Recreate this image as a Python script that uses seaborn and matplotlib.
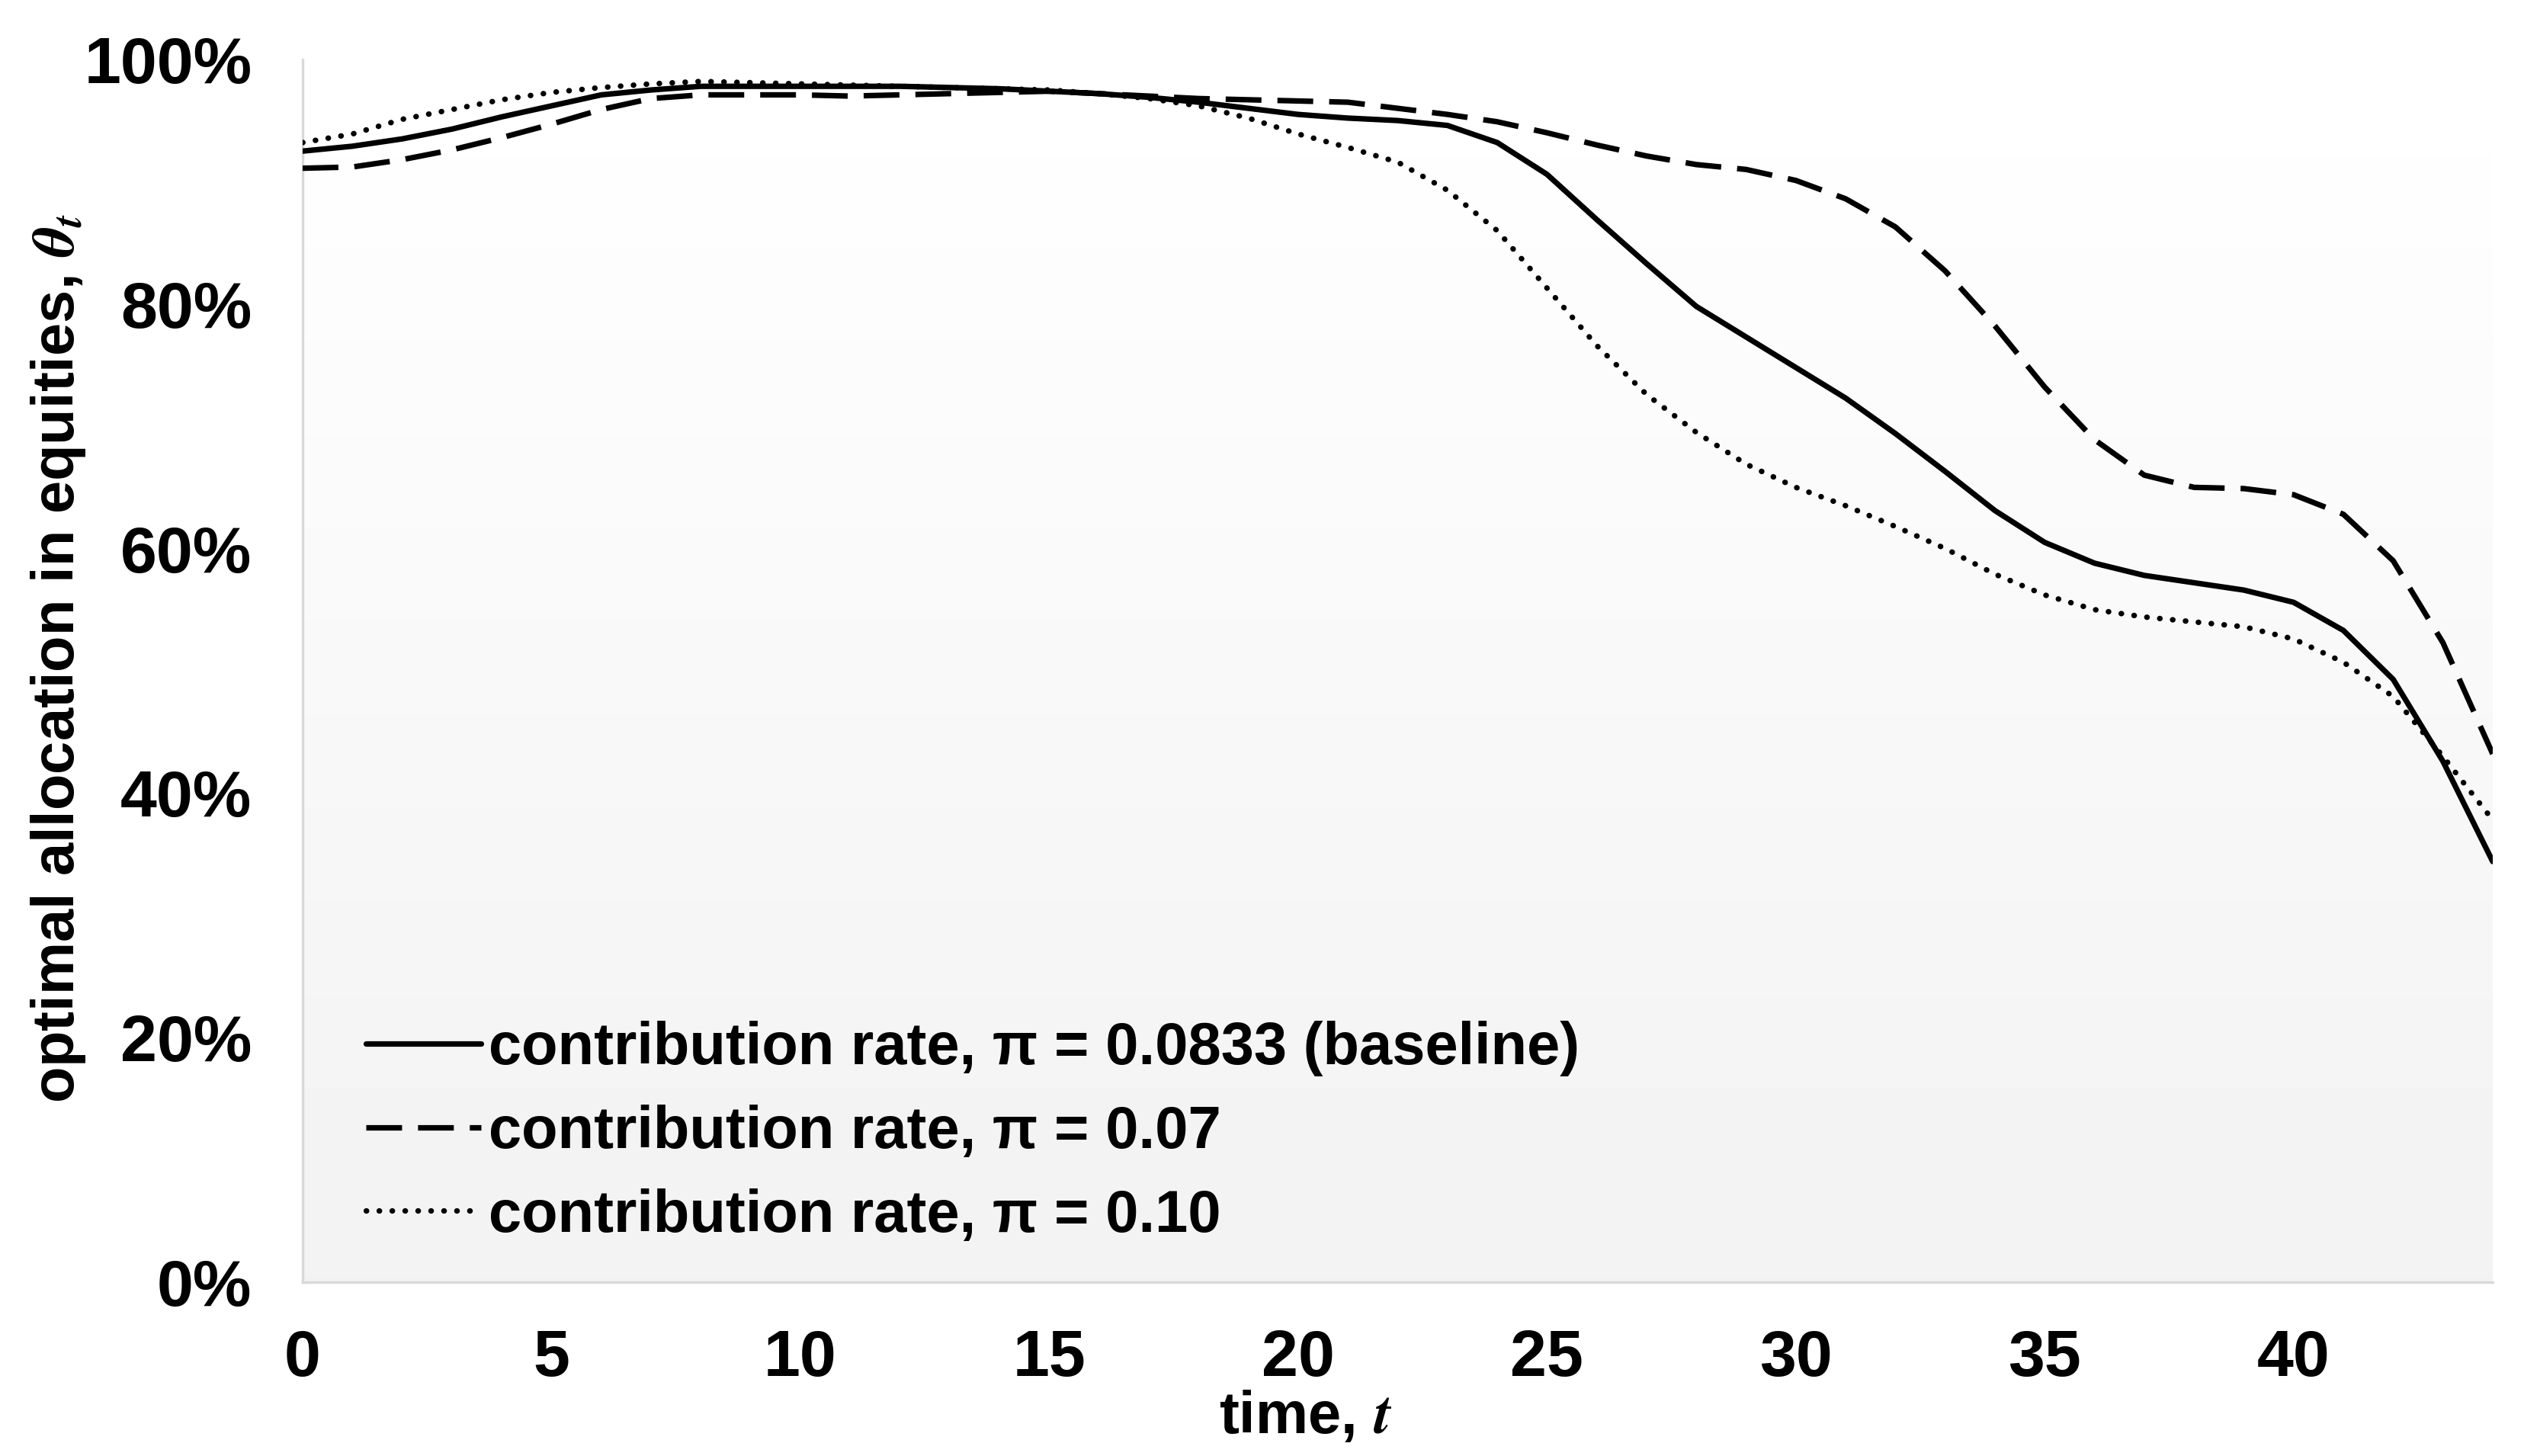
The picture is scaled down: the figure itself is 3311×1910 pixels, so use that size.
import numpy as np
import pandas as pd
import seaborn as sns
from matplotlib import pyplot as plt
from matplotlib.ticker import PercentFormatter

# time axis
t = list(range(0, 45))

# baseline, pi = 0.0833 (solid)
theta_base = [92.5, 92.9, 93.5, 94.3, 95.3, 96.2, 97.1, 97.5, 97.8, 97.8,
              97.8, 97.8, 97.8, 97.7, 97.6, 97.4, 97.2, 96.9, 96.5, 96.0,
              95.5, 95.2, 95.0, 94.6, 93.2, 90.6, 86.9, 83.3, 79.8, 77.3,
              74.8, 72.3, 69.4, 66.3, 63.1, 60.5, 58.8, 57.8, 57.2, 56.6,
              55.6, 53.3, 49.3, 42.6, 34.4]

# pi = 0.07 (dashed)
theta_low = [91.1, 91.2, 91.8, 92.6, 93.6, 94.7, 95.9, 96.8, 97.1, 97.1,
             97.1, 97.0, 97.1, 97.2, 97.3, 97.4, 97.2, 97.0, 96.8, 96.7,
             96.6, 96.5, 96.0, 95.5, 94.9, 94.0, 93.0, 92.1, 91.4, 91.0,
             90.1, 88.6, 86.3, 82.7, 78.2, 73.2, 68.9, 66.0, 65.0, 64.9,
             64.4, 62.8, 59.0, 52.3, 43.2]

# pi = 0.10 (dotted)
theta_high = [93.2, 93.9, 95.1, 95.9, 96.7, 97.3, 97.7, 98.0, 98.2, 98.1,
              98.0, 97.9, 97.8, 97.7, 97.6, 97.5, 97.2, 96.8, 96.2, 95.2,
              93.9, 92.8, 91.6, 89.3, 86.0, 81.3, 76.6, 72.6, 69.5, 66.9,
              65.0, 63.5, 61.8, 60.0, 57.9, 56.2, 55.0, 54.4, 54.0, 53.6,
              52.6, 50.7, 47.9, 43.0, 37.8]

labels = ['contribution rate, π = 0.0833 (baseline)',
          'contribution rate, π = 0.07',
          'contribution rate, π = 0.10']

sns.set_style('white')
plt.rcParams['font.family'] = ['Liberation Sans', 'DejaVu Sans']
plt.rcParams['font.weight'] = 'bold'
plt.rcParams['mathtext.fontset'] = 'stix'
plt.rcParams['text.color'] = 'black'
plt.rcParams['axes.labelcolor'] = 'black'

fig = plt.figure(figsize=(16.555, 9.55), dpi=200)
ax = fig.add_axes([0.1199, 0.1194, 0.8677, 0.8398])

# background gradient (white at top -> light gray at bottom)
grad = np.linspace(1.0, 0.949, 256).reshape(-1, 1)
ax.imshow(grad, extent=[0, 1, 0, 1], transform=ax.transAxes, cmap='gray',
          vmin=0, vmax=1, aspect='auto', zorder=0, interpolation='bicubic')

styles = [
    dict(linestyle='-'),
    dict(linestyle=(0, (6.5, 2.9))),
    dict(linestyle=(0, (0.05, 2.3)), dash_capstyle='round'),
]
for y, lab, st in zip([theta_base, theta_low, theta_high], labels, styles):
    d = pd.DataFrame({'t': t, 'theta': y})
    sns.lineplot(data=d, x='t', y='theta', ax=ax, color='black', lw=2.6,
                 label=lab, zorder=3, **st)

ax.set_xlim(0, 44)
ax.set_ylim(0, 100)
ax.set_xticks(range(0, 45, 5))
ax.set_yticks(range(0, 101, 20))
ax.yaxis.set_major_formatter(PercentFormatter(decimals=0))

for s in ['top', 'right']:
    ax.spines[s].set_visible(False)
for s in ['left', 'bottom']:
    ax.spines[s].set_color('#d9d9d9')
    ax.spines[s].set_linewidth(1.2)

ax.tick_params(axis='both', direction='out', color='#d9d9d9', width=1.2,
               length=9, labelsize=31, labelcolor='black')
ax.tick_params(axis='y', pad=15)
ax.tick_params(axis='x', pad=13)
for lbl in ax.get_xticklabels() + ax.get_yticklabels():
    lbl.set_fontweight('bold')

ax.set_xlabel('time, $t$', fontsize=28, fontweight='bold')
ax.set_ylabel(r'optimal allocation in equities, $\theta_t$', fontsize=28,
              fontweight='bold')
ax.xaxis.set_label_coords(0.458, -0.088)
ax.yaxis.set_label_coords(-0.098, 0.51)

ax.legend(loc='lower left', bbox_to_anchor=(0.018, 0.012), frameon=False,
          fontsize=28, handlelength=1.95, handletextpad=0.12,
          labelspacing=0.47, borderaxespad=0)

fig.savefig('out.png', dpi=200)
